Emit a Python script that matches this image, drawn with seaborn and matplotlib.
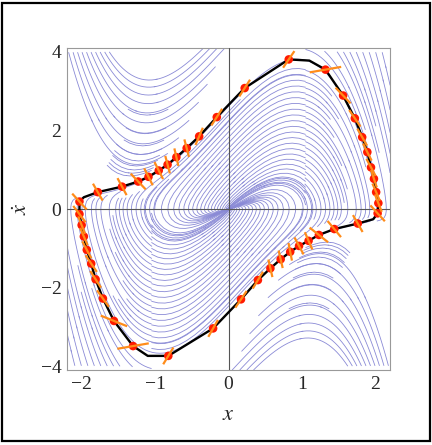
import numpy as np
import matplotlib
matplotlib.use('Agg')
import matplotlib.pyplot as plt
from matplotlib.patches import Rectangle
import seaborn as sns

sns.set_theme(style='white')
plt.rcParams['font.family'] = ['Liberation Serif', 'DejaVu Serif']
plt.rcParams['mathtext.fontset'] = 'stix'

# van der Pol parameter for the background flow
mu = 2.0

# red sample points on the cycle (clockwise, from the left end)
dot_x = [-2.03, -1.78, -1.45, -1.23, -1.09, -0.95, -0.83, -0.71, -0.57, -0.40, -0.16,
         0.22, 0.82, 1.32, 1.56, 1.72, 1.82, 1.89, 1.94, 1.98, 2.01, 2.04, 2.03,
         1.76, 1.44, 1.23, 1.09, 0.96, 0.84, 0.71, 0.57, 0.40, 0.17, -0.21, -0.82,
         -1.30, -1.56, -1.71, -1.81, -1.87, -1.93, -1.97, -2.00, -2.03]
dot_y = [0.19, 0.43, 0.57, 0.70, 0.82, 0.98, 1.13, 1.32, 1.55, 1.85, 2.34,
         3.08, 3.81, 3.55, 2.89, 2.31, 1.83, 1.45, 1.06, 0.77, 0.43, 0.15, -0.11,
         -0.37, -0.51, -0.66, -0.81, -0.94, -1.09, -1.28, -1.51, -1.81, -2.30, -3.04, -3.74,
         -3.49, -2.85, -2.28, -1.79, -1.39, -1.04, -0.70, -0.41, -0.13]
# direction of the orange marks through each dot (degrees, in data units)
mark_angle = [-64, -73, -74, -63, -75, -75, -82, -83, -82, 77, 71,
              71, 70, 18, -63, -70, -73, -75, -74, -80, -77, -78, -64,
              -73, -66, -56, -77, -74, -84, -83, -83, 72, 70, 73, 72,
              18, -37, -69, -71, -70, -74, -77, -78, -68]
mark_len = 0.45

# black polyline: the dots plus four corner points
path_x = [-2.03, -1.97, -1.78, -1.45, -1.23, -1.09, -0.95, -0.83, -0.71, -0.57, -0.40, -0.16,
          0.22, 0.82, 1.10, 1.32, 1.56, 1.72, 1.82, 1.89, 1.94, 1.98, 2.01, 2.04, 2.03,
          1.97, 1.76, 1.44, 1.23, 1.09, 0.96, 0.84, 0.71, 0.57, 0.40, 0.17, -0.21, -0.82,
          -1.10, -1.30, -1.56, -1.71, -1.81, -1.87, -1.93, -1.97, -2.00, -2.03, -2.03]
path_y = [0.19, 0.30, 0.43, 0.57, 0.70, 0.82, 0.98, 1.13, 1.32, 1.55, 1.85, 2.34,
          3.08, 3.81, 3.78, 3.55, 2.89, 2.31, 1.83, 1.45, 1.06, 0.77, 0.43, 0.15, -0.11,
          -0.26, -0.37, -0.51, -0.66, -0.81, -0.94, -1.09, -1.28, -1.51, -1.81, -2.30, -3.04, -3.74,
          -3.74, -3.49, -2.85, -2.28, -1.79, -1.39, -1.04, -0.70, -0.41, -0.13, 0.19]

x_ticks = [-2, -1, 0, 1, 2]
y_ticks = [-4, -2, 0, 2, 4]
xlim = (-2.2, 2.2)
ylim = (-4.1, 4.1)

stream_col = '#8a8ad6'
stream_kw = dict(color=stream_col, linewidth=0.6, arrowstyle='-', arrowsize=0.01)

fig = plt.figure(figsize=(4.32, 4.45), dpi=100)
ax = fig.add_axes([0.155, 0.1685, 0.748, 0.7236])

# flow field
gx = np.linspace(xlim[0], xlim[1], 221)
gy = np.linspace(ylim[0], ylim[1], 221)
X, Y = np.meshgrid(gx, gy)
U = Y
V = mu * (1 - X**2) * Y - X

ys_in = np.arange(0.1, 3.65, 0.15)
inner = np.vstack([np.column_stack([np.ones_like(ys_in), ys_in]),
                   np.column_stack([-np.ones_like(ys_in), -ys_in])])
inner_back = inner * [1.05, 1.0]

xs_a = np.arange(-2.19, -1.6, 0.06)
xs_b = np.arange(1.0, 2.19, 0.09)
steep = np.vstack([np.column_stack([xs_a, np.full_like(xs_a, 4.08)]),
                   np.column_stack([-xs_a, np.full_like(xs_a, -4.08)])])
edge = np.vstack([np.column_stack([xs_b, np.full_like(xs_b, 4.08)]),
                  np.column_stack([-xs_b, np.full_like(xs_b, -4.08)])])

# short U-shaped lines above / below the cycle, seeded at their turning points
xm = np.linspace(-1.11, -1.34, 9)
umin = np.column_stack([xm, xm / (mu * (1 - xm**2))])
umin = np.vstack([umin, -umin])

# lines running back into the origin
ax.streamplot(gx, gy, U, V, start_points=inner_back, integration_direction='backward',
              broken_streamlines=False, maxlength=1.5, **stream_kw)
# lines running on towards the cycle
ax.streamplot(gx, gy, U, V, start_points=np.vstack([inner, edge]),
              integration_direction='forward', density=3, maxlength=3, **stream_kw)
ax.streamplot(gx, gy, U, V, start_points=steep, integration_direction='forward',
              density=3, maxlength=0.55, **stream_kw)
ax.streamplot(gx, gy, U, V, start_points=umin, broken_streamlines=False,
              maxlength=0.17, **stream_kw)

ax.axhline(0, color='#555555', lw=0.8, zorder=3)
ax.axvline(0, color='#555555', lw=0.8, zorder=3)

sns.lineplot(x=path_x, y=path_y, sort=False, estimator=None, color='black',
             lw=1.7, ax=ax, zorder=4)
sns.scatterplot(x=dot_x, y=dot_y, color='#ff1a00', s=38, edgecolor='none',
                ax=ax, zorder=5)

th = np.deg2rad(mark_angle)
dx = 0.5 * mark_len * np.cos(th)
dy = 0.5 * mark_len * np.sin(th)
for x0, y0, ddx, ddy in zip(dot_x, dot_y, dx, dy):
    ax.plot([x0 - ddx, x0 + ddx], [y0 - ddy, y0 + ddy], color='#ff8c1a',
            lw=1.6, solid_capstyle='butt', zorder=6)

ax.set_xlim(*xlim)
ax.set_ylim(*ylim)
ax.set_xticks(x_ticks)
ax.set_yticks(y_ticks)
ax.tick_params(direction='in', length=4, width=0.7, color='#888888',
               labelsize=14, pad=4)
for s in ax.spines.values():
    s.set_color('#999999')
    s.set_linewidth(0.8)
ax.set_xlabel('$x$', fontsize=16, labelpad=10)
ax.set_ylabel(r'$\dot{x}$', fontsize=16, labelpad=6)

fig.patches.append(Rectangle((0.004, 0.009), 0.991, 0.984, transform=fig.transFigure,
                             fill=False, edgecolor='black', lw=1.6))

fig.savefig('out.png', dpi=100)
